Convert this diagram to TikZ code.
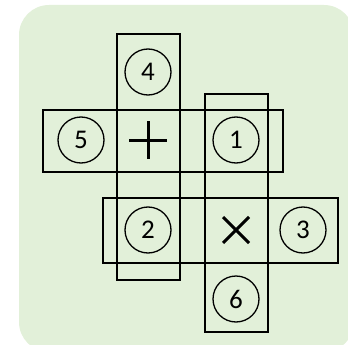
\documentclass[tikz,border=0pt]{standalone}
\usepackage{fontspec}
\setmainfont{Carlito}
\usepackage{tikz}
\usetikzlibrary{calc}
\definecolor{panel}{HTML}{E2F0D9}
\definecolor{ink}{HTML}{000000}
\tikzset{
  bar/.style={draw=ink, line width=1.7pt},
  num/.style={circle, draw=ink, line width=1.3pt, minimum size=46pt, inner sep=0pt,
    font=\fontsize{27}{30}\selectfont},
  sign/.style={draw=ink, line width=3pt}
}
\begin{document}
\begin{tikzpicture}[x=1pt,y=-1pt]
  \useasboundingbox (0,0) rectangle (348,345);
  \fill[panel, rounded corners=30pt] (19,5) rectangle (354,352);
  % strips
  \draw[bar] (117,34) rectangle (180,280);
  \draw[bar] (43,110) rectangle (283,172);
  \draw[bar] (205,94) rectangle (268,332);
  \draw[bar] (103,198) rectangle (338,263);
  % numbered faces
  \node[num] (n4) at (148,72) {4};
  \node[num] (n5) at (81,140) {5};
  \node[num] (n1) at (236,140) {1};
  \node[num] (n2) at (148,230) {2};
  \node[num] (n3) at (303,230) {3};
  \node[num] (n6) at (236,299) {6};
  % signs
  \coordinate (plus) at (148,140);
  \coordinate (times) at (236,230);
  \draw[sign] ($(plus)+(-19,0)$) -- ($(plus)+(19,0)$);
  \draw[sign] ($(plus)+(0,-19)$) -- ($(plus)+(0,19)$);
  \draw[sign] ($(times)+(-13,-13)$) -- ($(times)+(13,13)$);
  \draw[sign] ($(times)+(-13,13)$) -- ($(times)+(13,-13)$);
\end{tikzpicture}
\end{document}
